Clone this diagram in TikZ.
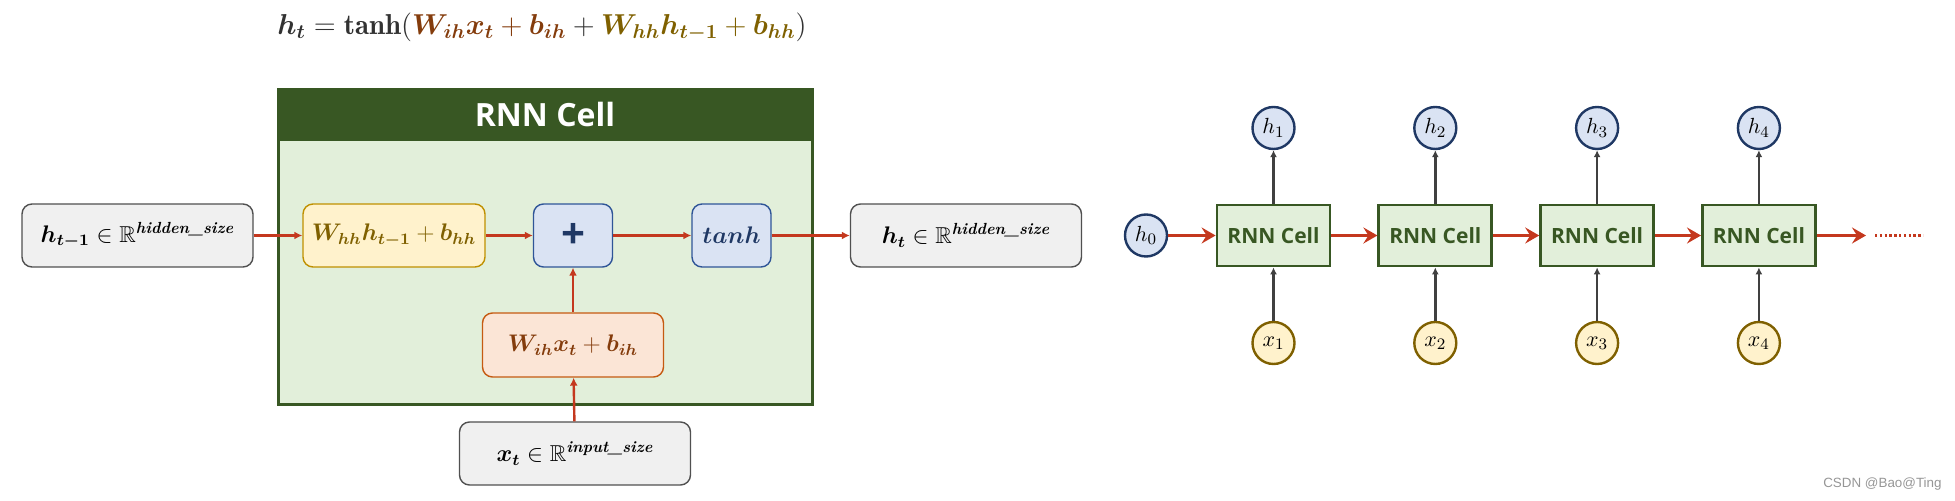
\documentclass[tikz,border=0pt]{standalone}
\usepackage{fontspec}
\usepackage{amsmath,amssymb,bm}
\usetikzlibrary{arrows.meta}
\newfontfamily\uifont{Open Sans}
\newfontfamily\wmfont{Liberation Sans}
\definecolor{redarr}{RGB}{196,56,30}
\definecolor{arrgray}{RGB}{64,64,64}
\definecolor{dkgreen}{RGB}{56,87,35}
\definecolor{ltgreen}{RGB}{226,239,218}
\definecolor{boxfill}{RGB}{240,240,240}
\definecolor{boxline}{RGB}{80,80,80}
\definecolor{yfill}{RGB}{255,242,204}
\definecolor{yline}{RGB}{191,144,0}
\definecolor{bfill}{RGB}{218,227,243}
\definecolor{bline}{RGB}{47,85,151}
\definecolor{ofill}{RGB}{251,229,214}
\definecolor{oline}{RGB}{197,90,17}
\definecolor{browntxt}{RGB}{132,60,12}
\definecolor{goldtxt}{RGB}{127,96,0}
\definecolor{navytxt}{RGB}{31,56,100}
\definecolor{txtdark}{RGB}{50,50,50}
\definecolor{wmgray}{RGB}{150,150,150}
\begin{document}
\begin{tikzpicture}[
		x = 0.5pt, y = -0.5pt,
		box/.style  = {rectangle, rounded corners=5pt, draw, line width=0.7pt, minimum height=31.5pt, inner sep=0pt, font=\fontsize{11.5}{14}\selectfont},
		gbox/.style = {box, fill=boxfill, draw=boxline, minimum width=115.5pt},
		ybox/.style = {box, fill=yfill, draw=yline, minimum width=91pt, text=goldtxt},
		bbox/.style = {box, fill=bfill, draw=bline, minimum width=39.5pt, text=navytxt},
		obox/.style = {box, fill=ofill, draw=oline, minimum width=90.5pt, minimum height=32pt, text=browntxt},
		rarr/.style = {draw=redarr, line width=1.2pt, -{Latex[length=4pt,width=4pt]}},
		cellnd/.style = {rectangle, draw=dkgreen, fill=ltgreen, line width=1.4pt, minimum width=56.5pt, minimum height=30.5pt, inner sep=0pt, font=\uifont\bfseries\fontsize{10.5}{12}\selectfont, text=dkgreen},
		hnd/.style  = {circle, draw=navytxt, fill=bfill, line width=1.2pt, minimum size=21pt, inner sep=0pt, font=\fontsize{11}{12}\selectfont},
		xnd/.style  = {hnd, draw=goldtxt, fill=yfill},
		garr/.style = {draw=arrgray, line width=1.2pt, -{Latex[length=3.5pt,width=3.5pt]}},
		carr/.style = {draw=redarr, line width=1.5pt, -{Stealth[length=7pt,width=8pt,inset=2.5pt]}}
		]
		\useasboundingbox (0,0) rectangle (1955,501);
		
		% formula
		\node[font=\fontsize{14.4}{18}\selectfont, text=txtdark] (eq) at (542,27)
		{$\bm{h_t} = \mathbf{tanh}(\textcolor{browntxt}{\bm{W_{ih}x_t} + \bm{b_{ih}}} + \textcolor{goldtxt}{\bm{W_{hh}h_{t-1}} + \bm{b_{hh}}})$};
		
		% rnn cell (detail)
		\node[draw=dkgreen, fill=ltgreen, line width=1.5pt, minimum width=267pt, minimum height=157.5pt, inner sep=0pt] (cell) at (545,247.5) {};
		\node[fill=dkgreen, minimum width=267pt, minimum height=26pt, inner sep=0pt, anchor=north, text=white, font=\uifont\bfseries\fontsize{16}{18}\selectfont] (cellhd) at (cell.north) {RNN Cell};
		
		\node[gbox] (hprev) at (137.5,235.5) {$\bm{h_{t-1}} \in \mathbb{R}^{\textbf{\textit{hidden\_size}}}$};
		\node[ybox] (whh)   at (394,235.5)   {$\bm{W_{hh}h_{t-1}} + \bm{b_{hh}}$};
		\node[bbox, font=\uifont\bfseries\fontsize{21}{21}\selectfont] (plus) at (573,235.5) {+};
		\node[bbox] (tanh)  at (731.5,235.5) {$\bm{tanh}$};
		\node[gbox] (hnext) at (966,235.5)   {$\bm{h_t} \in \mathbb{R}^{\textbf{\textit{hidden\_size}}}$};
		\node[obox] (wih)   at (573,345)     {$\bm{W_{ih}x_t} + \bm{b_{ih}}$};
		\node[gbox] (xt)    at (575,453.5)   {$\bm{x_t} \in \mathbb{R}^{\textbf{\textit{input\_size}}}$};
		
		\draw[rarr] (hprev) -- (whh);
		\draw[rarr] (whh) -- (plus);
		\draw[rarr] (plus) -- (tanh);
		\draw[rarr] (tanh) -- (hnext);
		\draw[rarr] (wih) -- (plus);
		\draw[rarr] (xt) -- (wih);
		
		% unrolled chain
		\node[hnd] (h0) at (1146,235.5) {$h_0$};
		\foreach \i in {1,...,4} {
			\node[cellnd] (c\i) at ({1273.5+161.8*(\i-1)},235.5) {RNN Cell};
			\node[hnd] (h\i) at ({1273.5+161.8*(\i-1)},128) {$h_\i$};
			\node[xnd] (x\i) at ({1273.5+161.8*(\i-1)},343) {$x_\i$};
			\draw[garr] (c\i) -- (h\i);
			\draw[garr] (x\i) -- (c\i);
		}
		\draw[carr] (h0) -- (c1);
		\foreach \i/\j in {1/2,2/3,3/4}
		\draw[carr] (c\i) -- (c\j);
		\coordinate (tail) at (1866,235.5);
		\draw[carr] (c4) -- (tail);
		\coordinate (dots) at (1875,235.5);
		\draw[draw=redarr, line width=1.3pt, dash pattern=on 1.2pt off 1.2pt] (dots) -- ++(48,0);
		
		\node[font=\wmfont\fontsize{6.7}{8}\selectfont, text=wmgray, anchor=east, inner sep=0pt] (wm) at (1942,484) {CSDN @Bao@Ting};
	\end{tikzpicture}
\end{document}
